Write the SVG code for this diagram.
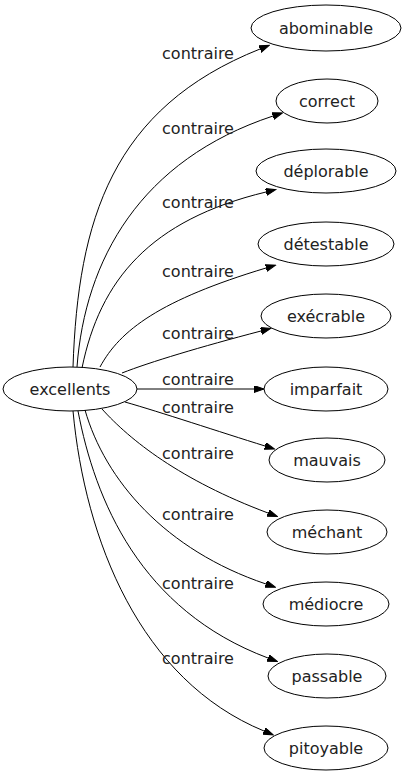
<svg xmlns="http://www.w3.org/2000/svg" width="407" height="779" viewBox="0 0 407 779">
<style>
.node ellipse{fill:none;stroke:#000;stroke-width:1}
.node text{font-family:"DejaVu Sans",sans-serif;font-size:16px;fill:#222;text-anchor:middle}
.edge path{fill:none;stroke:#000;stroke-width:1}
.lbl{font-family:"DejaVu Sans",sans-serif;font-size:16px;fill:#222;text-anchor:middle}
</style>
<defs>
<marker id="arr" markerUnits="userSpaceOnUse" markerWidth="11" markerHeight="8" refX="0" refY="3.5" orient="auto" viewBox="0 0 11 8">
<path d="M0,0 L10,3.5 L0,7 z" fill="#000" stroke="#000" stroke-width="1"/>
</marker>
</defs>
<rect width="407" height="779" fill="#fff"/>
<g id="edges" class="edge">
<path marker-end="url(#arr)" d="M73,367 C78,220 112,108 260,49"/>
<path marker-end="url(#arr)" d="M77,367 C85,260 140,160 273,116"/>
<path marker-end="url(#arr)" d="M82,368 C100,280 150,220 266,192"/>
<path marker-end="url(#arr)" d="M100,367 C120,330 160,300 266,268"/>
<path marker-end="url(#arr)" d="M122,373 C150,362 200,347 261,331"/>
<path marker-end="url(#arr)" d="M137,389 L254,389"/>
<path marker-end="url(#arr)" d="M125,402 C160,412 220,432 265,446"/>
<path marker-end="url(#arr)" d="M102,409 C130,440 180,480 268,513"/>
<path marker-end="url(#arr)" d="M85,410 C105,480 165,550 266,584"/>
<path marker-end="url(#arr)" d="M78,411 C95,500 140,610 268,658"/>
<path marker-end="url(#arr)" d="M73,411 C85,540 140,680 264,731"/>
<text class="lbl" x="198" y="58.5">contraire</text>
<text class="lbl" x="198" y="133.5">contraire</text>
<text class="lbl" x="198" y="207.5">contraire</text>
<text class="lbl" x="198" y="276.5">contraire</text>
<text class="lbl" x="198" y="338.5">contraire</text>
<text class="lbl" x="198" y="384.5">contraire</text>
<text class="lbl" x="198" y="412.5">contraire</text>
<text class="lbl" x="198" y="458.5">contraire</text>
<text class="lbl" x="198" y="519.5">contraire</text>
<text class="lbl" x="198" y="588.5">contraire</text>
<text class="lbl" x="198" y="663.5">contraire</text>
</g>
<g id="excellents" class="node"><ellipse cx="70" cy="389" rx="67" ry="22"/><text x="70" y="394.5">excellents</text></g>
<g id="abominable" class="node"><ellipse cx="326" cy="28" rx="75" ry="23"/><text x="326" y="33.5">abominable</text></g>
<g id="correct" class="node"><ellipse cx="327" cy="101" rx="51" ry="22"/><text x="327" y="106.5">correct</text></g>
<g id="deplorable" class="node"><ellipse cx="326" cy="171" rx="70" ry="22"/><text x="326" y="176.5">déplorable</text></g>
<g id="detestable" class="node"><ellipse cx="326" cy="244" rx="68" ry="22"/><text x="326" y="249.5">détestable</text></g>
<g id="execrable" class="node"><ellipse cx="326" cy="316" rx="65" ry="22"/><text x="326" y="321.5">exécrable</text></g>
<g id="imparfait" class="node"><ellipse cx="326" cy="389" rx="62" ry="22"/><text x="326" y="394.5">imparfait</text></g>
<g id="mauvais" class="node"><ellipse cx="327" cy="460" rx="58" ry="22"/><text x="327" y="465.5">mauvais</text></g>
<g id="mechant" class="node"><ellipse cx="327" cy="532" rx="60" ry="22"/><text x="327" y="537.5">méchant</text></g>
<g id="mediocre" class="node"><ellipse cx="326" cy="604" rx="63" ry="22"/><text x="326" y="609.5">médiocre</text></g>
<g id="passable" class="node"><ellipse cx="327" cy="676" rx="59" ry="22"/><text x="327" y="681.5">passable</text></g>
<g id="pitoyable" class="node"><ellipse cx="326" cy="748" rx="62" ry="22"/><text x="326" y="753.5">pitoyable</text></g>
</svg>
